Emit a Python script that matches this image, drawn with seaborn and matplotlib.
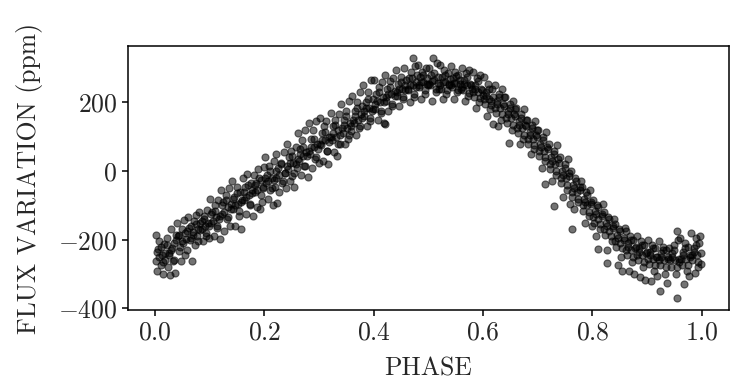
import matplotlib
matplotlib.use("Agg")
import matplotlib.pyplot as plt
import seaborn as sns

# phase-folded light curve
phase = [
    0.001, 0.002, 0.004, 0.006, 0.008, 0.010, 0.012, 0.014, 0.016, 0.018,
    0.021, 0.023, 0.025, 0.027, 0.029, 0.031, 0.033, 0.035, 0.037, 0.039,
    0.041, 0.043, 0.044, 0.047, 0.049, 0.051, 0.053, 0.055, 0.057, 0.059,
    0.061, 0.063, 0.065, 0.067, 0.069, 0.071, 0.073, 0.075, 0.077, 0.079,
    0.081, 0.082, 0.085, 0.087, 0.089, 0.091, 0.093, 0.095, 0.097, 0.099,
    0.101, 0.103, 0.105, 0.107, 0.109, 0.111, 0.113, 0.115, 0.117, 0.119,
    0.121, 0.123, 0.125, 0.127, 0.129, 0.131, 0.133, 0.135, 0.137, 0.139,
    0.141, 0.143, 0.145, 0.147, 0.149, 0.151, 0.153, 0.155, 0.157, 0.159,
    0.161, 0.163, 0.165, 0.167, 0.169, 0.171, 0.173, 0.175, 0.177, 0.179,
    0.181, 0.183, 0.185, 0.187, 0.189, 0.192, 0.193, 0.195, 0.197, 0.199,
    0.201, 0.203, 0.205, 0.207, 0.209, 0.211, 0.213, 0.215, 0.217, 0.219,
    0.221, 0.222, 0.225, 0.227, 0.223, 0.231, 0.233, 0.235, 0.237, 0.239,
    0.241, 0.243, 0.245, 0.247, 0.249, 0.251, 0.253, 0.255, 0.257, 0.259,
    0.261, 0.263, 0.265, 0.267, 0.269, 0.271, 0.273, 0.275, 0.277, 0.279,
    0.281, 0.283, 0.285, 0.287, 0.289, 0.291, 0.293, 0.295, 0.297, 0.299,
    0.301, 0.303, 0.305, 0.307, 0.309, 0.311, 0.317, 0.315, 0.313, 0.319,
    0.321, 0.323, 0.325, 0.327, 0.329, 0.331, 0.333, 0.335, 0.337, 0.339,
    0.341, 0.343, 0.345, 0.347, 0.349, 0.351, 0.353, 0.355, 0.357, 0.359,
    0.361, 0.363, 0.365, 0.367, 0.369, 0.371, 0.373, 0.375, 0.377, 0.379,
    0.381, 0.383, 0.385, 0.387, 0.389, 0.391, 0.393, 0.395, 0.397, 0.399,
    0.401, 0.403, 0.405, 0.407, 0.409, 0.411, 0.413, 0.415, 0.417, 0.419,
    0.421, 0.423, 0.425, 0.427, 0.429, 0.431, 0.433, 0.435, 0.421, 0.439,
    0.441, 0.443, 0.445, 0.447, 0.449, 0.451, 0.453, 0.455, 0.457, 0.459,
    0.472, 0.463, 0.465, 0.467, 0.469, 0.471, 0.473, 0.475, 0.477, 0.479,
    0.481, 0.483, 0.485, 0.487, 0.489, 0.491, 0.493, 0.495, 0.497, 0.499,
    0.509, 0.503, 0.505, 0.507, 0.501, 0.511, 0.513, 0.515, 0.517, 0.519,
    0.521, 0.523, 0.525, 0.527, 0.529, 0.531, 0.533, 0.535, 0.537, 0.539,
    0.541, 0.543, 0.545, 0.547, 0.549, 0.551, 0.553, 0.555, 0.557, 0.559,
    0.561, 0.563, 0.565, 0.567, 0.569, 0.571, 0.573, 0.575, 0.577, 0.579,
    0.581, 0.583, 0.585, 0.587, 0.589, 0.591, 0.593, 0.595, 0.597, 0.599,
    0.601, 0.603, 0.605, 0.607, 0.609, 0.611, 0.613, 0.619, 0.617, 0.615,
    0.621, 0.623, 0.625, 0.627, 0.629, 0.631, 0.633, 0.635, 0.637, 0.639,
    0.641, 0.643, 0.645, 0.647, 0.649, 0.651, 0.653, 0.655, 0.657, 0.659,
    0.661, 0.663, 0.665, 0.667, 0.669, 0.671, 0.673, 0.675, 0.677, 0.679,
    0.681, 0.683, 0.685, 0.687, 0.689, 0.691, 0.693, 0.695, 0.697, 0.699,
    0.701, 0.703, 0.705, 0.707, 0.709, 0.711, 0.713, 0.715, 0.717, 0.713,
    0.721, 0.723, 0.725, 0.727, 0.729, 0.731, 0.733, 0.735, 0.737, 0.729,
    0.741, 0.743, 0.745, 0.747, 0.749, 0.751, 0.753, 0.755, 0.757, 0.759,
    0.761, 0.763, 0.765, 0.767, 0.769, 0.771, 0.773, 0.762, 0.777, 0.779,
    0.781, 0.783, 0.785, 0.787, 0.789, 0.791, 0.793, 0.795, 0.797, 0.799,
    0.801, 0.803, 0.805, 0.807, 0.809, 0.811, 0.813, 0.811, 0.817, 0.819,
    0.821, 0.823, 0.825, 0.827, 0.829, 0.831, 0.827, 0.835, 0.837, 0.839,
    0.841, 0.843, 0.845, 0.847, 0.849, 0.851, 0.853, 0.855, 0.857, 0.859,
    0.861, 0.863, 0.865, 0.867, 0.869, 0.871, 0.873, 0.875, 0.877, 0.879,
    0.881, 0.883, 0.885, 0.887, 0.889, 0.891, 0.893, 0.895, 0.897, 0.899,
    0.901, 0.903, 0.905, 0.907, 0.909, 0.911, 0.913, 0.915, 0.917, 0.919,
    0.921, 0.923, 0.925, 0.924, 0.929, 0.931, 0.933, 0.935, 0.937, 0.939,
    0.955, 0.943, 0.945, 0.955, 0.949, 0.951, 0.953, 0.941, 0.957, 0.959,
    0.961, 0.963, 0.965, 0.967, 0.969, 0.971, 0.973, 0.975, 0.976, 0.979,
    0.981, 0.983, 0.985, 0.987, 0.989, 0.991, 0.993, 0.995, 0.997, 0.999,
]

flux_ppm = [
    -262, -185, -290, -228, -205, -275, -245, -300, -212, -258,
    -195, -280, -240, -302, -168, -225, -262, -210, -298, -185,
    -150, -232, -185, -262, -168, -210, -142, -245, -198, -175,
    -135, -200, -160, -262, -178, -145, -215, -128, -190, -170,
    -118, -172, -145, -205, -130, -160, -188, -112, -150, -195,
    -80, -150, -120, -188, -100, -135, -165, -85, -140, -198,
    -55, -125, -90, -175, -70, -140, -105, -48, -160, -95,
    -30, -110, -75, -160, -45, -95, -130, -60, -168, -85,
    -20, -85, -45, -125, -8, -70, -100, -35, -55, -130,
    -10, -60, -35, -105, 5, -111, -25, -90, -50, 12,
    40, -35, -10, -80, 15, -55, -20, -98, 30, -45,
    50, -20, 10, -60, -92, 25, -35, 55, -5, -48,
    80, 5, 40, -30, 60, -15, 25, -45, 70, 10,
    110, 30, 65, -10, 90, 45, 15, 120, 55, -18,
    140, 50, 95, 10, 120, 70, 35, 145, 80, 25,
    155, 75, 110, 30, 130, 90, 21, 60, 145, 100,
    170, 90, 130, 55, 150, 100, 45, 120, 165, 80,
    195, 110, 150, 80, 175, 125, 95, 205, 140, 118,
    220, 140, 175, 105, 200, 150, 125, 230, 165, 190,
    250, 160, 200, 130, 230, 185, 145, 265, 175, 210,
    265, 180, 225, 150, 245, 200, 170, 260, 215, 140,
    280, 205, 240, 175, 262, 225, 190, 270, 136, 232,
    295, 220, 255, 190, 275, 240, 210, 300, 250, 265,
    330, 235, 270, 200, 290, 250, 215, 305, 260, 280,
    310, 245, 275, 210, 290, 260, 225, 300, 270, 250,
    330, 250, 280, 205, 300, 265, 230, 315, 275, 240,
    310, 240, 275, 210, 295, 260, 225, 285, 250, 268,
    305, 245, 270, 210, 290, 258, 230, 280, 265, 238,
    300, 235, 265, 205, 285, 250, 220, 295, 255, 240,
    290, 215, 250, 185, 270, 230, 200, 280, 240, 222,
    275, 195, 230, 160, 255, 210, 180, 136, 240, 205,
    250, 170, 205, 130, 225, 185, 150, 240, 195, 215,
    215, 140, 175, 83, 195, 155, 120, 205, 165, 180,
    185, 110, 145, 80, 165, 125, 95, 180, 135, 150,
    150, 80, 115, 50, 135, 95, 65, 145, 105, 120,
    120, 45, 80, 10, 100, 60, 30, 115, 70, -39,
    80, 5, 40, -30, 60, 20, -10, 75, 35, -102,
    40, -35, 0, -75, 20, -20, -55, 35, -5, -95,
    0, -75, -40, -110, -20, -60, -90, -170, -45, -30,
    -45, -115, -80, -150, -60, -100, -130, -55, -90, -160,
    -85, -150, -115, -190, -100, -140, -170, -228, -125, -95,
    -120, -185, -150, -230, -135, -175, -267, -205, -160, -140,
    -155, -220, -185, -275, -170, -210, -250, -290, -195, -165,
    -175, -245, -210, -290, -190, -230, -265, -200, -300, -220,
    -190, -260, -225, -310, -205, -245, -280, -215, -316, -235,
    -200, -270, -235, -320, -215, -255, -290, -225, -250, -305,
    -205, -275, -240, -350, -220, -260, -300, -230, -325, -250,
    -175, -280, -240, -369, -215, -260, -300, -225, -200, -265,
    -195, -275, -235, -330, -210, -255, -290, -220, -305, -245,
    -180, -260, -225, -296, -195, -245, -280, -210, -190, -270,
]

# points in the dense middle of the band
phase_core = [
    0.003, 0.007, 0.010, 0.015, 0.018, 0.022, 0.026, 0.030, 0.034, 0.038,
    0.042, 0.046, 0.050, 0.054, 0.058, 0.062, 0.066, 0.070, 0.074, 0.078,
    0.083, 0.086, 0.090, 0.094, 0.098, 0.102, 0.106, 0.110, 0.114, 0.118,
    0.122, 0.126, 0.130, 0.134, 0.138, 0.142, 0.146, 0.150, 0.154, 0.158,
    0.162, 0.166, 0.170, 0.174, 0.178, 0.182, 0.186, 0.190, 0.194, 0.198,
    0.202, 0.206, 0.210, 0.214, 0.218, 0.222, 0.226, 0.230, 0.234, 0.238,
    0.242, 0.246, 0.250, 0.254, 0.258, 0.262, 0.266, 0.270, 0.274, 0.278,
    0.282, 0.286, 0.290, 0.294, 0.298, 0.302, 0.306, 0.310, 0.314, 0.318,
    0.322, 0.326, 0.330, 0.334, 0.338, 0.342, 0.346, 0.350, 0.354, 0.358,
    0.362, 0.366, 0.370, 0.374, 0.378, 0.382, 0.386, 0.390, 0.394, 0.398,
    0.402, 0.406, 0.410, 0.414, 0.418, 0.422, 0.426, 0.430, 0.434, 0.438,
    0.442, 0.446, 0.450, 0.454, 0.458, 0.462, 0.466, 0.470, 0.474, 0.478,
    0.482, 0.486, 0.490, 0.494, 0.498, 0.502, 0.506, 0.510, 0.514, 0.518,
    0.522, 0.526, 0.530, 0.534, 0.538, 0.542, 0.546, 0.550, 0.554, 0.558,
    0.562, 0.566, 0.570, 0.574, 0.578, 0.582, 0.586, 0.590, 0.594, 0.598,
    0.602, 0.606, 0.610, 0.614, 0.618, 0.622, 0.626, 0.630, 0.634, 0.638,
    0.642, 0.646, 0.650, 0.654, 0.658, 0.662, 0.666, 0.670, 0.674, 0.678,
    0.682, 0.686, 0.690, 0.694, 0.698, 0.702, 0.706, 0.710, 0.714, 0.718,
    0.722, 0.726, 0.730, 0.734, 0.738, 0.742, 0.746, 0.750, 0.754, 0.758,
    0.762, 0.766, 0.770, 0.774, 0.778, 0.782, 0.786, 0.790, 0.794, 0.798,
    0.802, 0.806, 0.810, 0.814, 0.818, 0.822, 0.826, 0.830, 0.834, 0.838,
    0.842, 0.846, 0.850, 0.854, 0.858, 0.862, 0.866, 0.870, 0.874, 0.878,
    0.882, 0.886, 0.890, 0.894, 0.898, 0.902, 0.906, 0.910, 0.914, 0.918,
    0.922, 0.926, 0.930, 0.934, 0.938, 0.942, 0.946, 0.950, 0.954, 0.958,
    0.962, 0.966, 0.970, 0.974, 0.978, 0.982, 0.986, 0.990, 0.994, 0.998,
]

flux_core = [
    -235, -250, -220, -265, -240, -215, -245, -230, -260, -200,
    -190, -220, -205, -180, -230, -165, -195, -185, -155, -205,
    -150, -170, -140, -180, -160, -125, -145, -115, -160, -130,
    -100, -120, -85, -135, -110, -80, -100, -65, -115, -90,
    -60, -75, -40, -95, -65, -40, -55, -20, -70, -45,
    -20, -30, 0, -50, -25, 0, -10, 20, -30, -5,
    15, 25, 45, -5, 20, 35, 50, 70, 15, 45,
    60, 70, 95, 40, 65, 80, 90, 115, 60, 85,
    100, 110, 135, 80, 105, 125, 135, 160, 105, 130,
    150, 160, 185, 130, 155, 175, 185, 210, 155, 180,
    195, 205, 230, 175, 200, 215, 225, 245, 195, 220,
    230, 240, 260, 215, 235, 240, 250, 270, 225, 245,
    250, 260, 280, 235, 255, 255, 262, 285, 240, 258,
    250, 260, 280, 235, 255, 250, 258, 278, 235, 255,
    245, 255, 275, 228, 250, 230, 240, 262, 212, 235,
    210, 220, 240, 192, 215, 185, 195, 215, 165, 190,
    155, 165, 185, 135, 160, 125, 135, 155, 105, 130,
    95, 105, 125, 75, 100, 60, 70, 90, 40, 65,
    20, 30, 50, 0, 25, -20, -10, 10, -40, -15,
    -60, -50, -30, -80, -55, -100, -90, -70, -120, -95,
    -135, -125, -105, -155, -130, -170, -160, -140, -190, -165,
    -205, -195, -175, -225, -200, -230, -220, -200, -250, -225,
    -245, -235, -215, -265, -240, -255, -245, -225, -275, -250,
    -260, -250, -230, -280, -255, -260, -250, -230, -280, -255,
    -255, -245, -225, -275, -250, -245, -235, -215, -265, -240,
]

sns.set_style("ticks")
plt.rcParams["font.family"] = "serif"
plt.rcParams["font.serif"] = ["cmr10"]
plt.rcParams["mathtext.fontset"] = "cm"
plt.rcParams["axes.formatter.use_mathtext"] = True
plt.rcParams["axes.unicode_minus"] = True

fig, ax = plt.subplots(figsize=(7.47, 3.92), dpi=100)
fig.subplots_adjust(left=0.171, right=0.976, top=0.883, bottom=0.209)

sns.scatterplot(x=phase + phase_core, y=flux_ppm + flux_core, color="k",
                alpha=0.55, s=26, edgecolor="k", linewidth=0.8, ax=ax)

for side in ["top", "right", "left", "bottom"]:
    ax.spines[side].set_visible(True)
    ax.spines[side].set_linewidth(1.1)
    ax.spines[side].set_color("k")

ax.set_xlim(-0.05, 1.05)
ax.set_ylim(-405, 365)
ax.set_xticks([0.0, 0.2, 0.4, 0.6, 0.8, 1.0])
ax.set_yticks([-400, -200, 0, 200])
ax.tick_params(labelsize=18.5, width=1.1, length=4, color="k")
ax.set_xlabel("PHASE", fontsize=18.5, labelpad=9)
ax.set_ylabel("FLUX VARIATION (ppm)", fontsize=18.5, labelpad=11)

plt.savefig("out.png", dpi=100)
